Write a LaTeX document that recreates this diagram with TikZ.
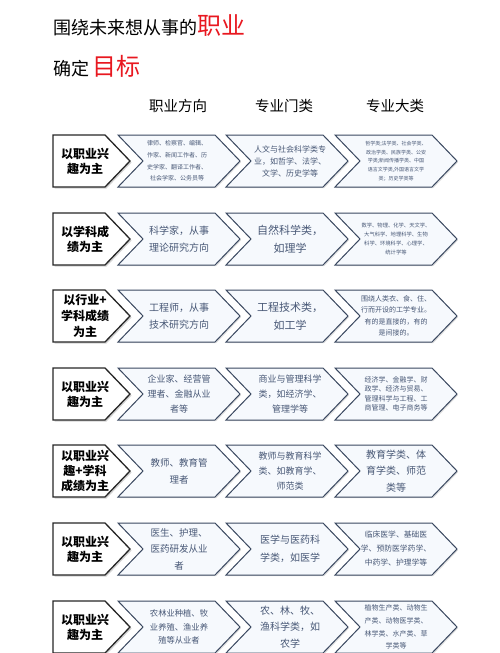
\documentclass[tikz,border=0pt]{standalone}
\usepackage{fontspec}
\setmainfont{Noto Sans CJK SC}
\usepackage{tikz}
\usetikzlibrary{shadows}
\definecolor{chevline}{RGB}{58,72,96}
\definecolor{chevtext}{RGB}{72,88,118}
\definecolor{titlered}{RGB}{232,24,32}
\newcommand{\fs}[2]{\fontsize{#1}{#2}\selectfont}

\begin{document}
\begin{tikzpicture}
[x=1pt,y=-1pt]
\tikzstyle{goal box}=[draw=black!85,line width=1.3pt,fill=white,line join=miter,drop shadow={shadow xshift=1.5pt,shadow yshift=-1.5pt,opacity=.35}]
\tikzstyle{major box}=[draw=chevline,line width=1pt,fill={rgb,255:red,246;green,249;blue,253},line join=miter,drop shadow={shadow xshift=1.2pt,shadow yshift=-1.2pt,opacity=.25}]
\tikzstyle{goal node}=[align=center,inner sep=0pt,font=\bfseries\fs{12}{15}]
\tikzstyle{major node}=[align=center,inner sep=0pt,text=chevtext]
\tikzstyle{head node}=[font=\fs{14.5}{16}]
\useasboundingbox (0,0) rectangle (500,653);

% title
\node(t1)[anchor=base west,inner sep=0pt,font=\fs{18}{20}] at (53,34) {围绕未来想从事的\textcolor{titlered}{\fs{24}{26}职业}};
\node(t2)[anchor=base west,inner sep=0pt,font=\fs{18}{20}] at (53,75) {确定\,\textcolor{titlered}{\fs{24}{26}目标}};

% column heads
\node(h1)[head node] at (178,106) {职业方向};
\node(h2)[head node] at (284,106) {专业门类};
\node(h3)[head node] at (395,106) {专业大类};

% arrow boxes
\foreach \y in {161,239,316,394,471,549,627}{
  \draw[goal box,shift={(0,\y)}] (53,-26) -- (105,-26) -- (130,0) -- (105,26) -- (53,26) -- cycle;
  \foreach \x in {179,287,396}
    \draw[major box,shift={(\x,\y)}] (-61,-26) -- (36,-26) -- (61,0) -- (36,26) -- (-61,26) -- (-36,0) -- cycle;
}

% row 1
\node(10)[goal node] at (85,161) {以职业兴\\趣为主};
\node(11)[major node,font=\fs{6}{11.7}] at (177,161) {律师、检察官、编辑、\\作家、新闻工作者、历\\史学家、翻译工作者、\\社会学家、公务员等};
\node(12)[major node,font=\fs{8}{12}] at (290,161) {人文与社会科学类专\\业，如哲学、法学、\\文学、历史学等};
\node(13)[major node,font=\fs{5}{8.7}] at (396,161) {哲学类;法学类、社会学类、\\政治学类、民族学类、公安\\学类;新闻传播学类、中国\\语言文学类,外国语言文学\\类；历史学类等};

% row 2
\node(20)[goal node] at (85,239) {以学科成\\绩为主};
\node(21)[major node,font=\fs{10}{17}] at (179,239) {科学家，从事\\理论研究方向};
\node(22)[major node,font=\fs{11}{18}] at (290,239) {自然科学类，\\如理学};
\node(23)[major node,font=\fs{5.3}{9}] at (396,239) {数学、物理、化学、天文学、\\大气科学、地理科学、生物\\科学、环境科学、心理学、\\统计学等};

% row 3
\node(30)[goal node,font=\bfseries\fs{12}{16}] at (85,316) {以行业+\\学科成绩\\为主};
\node(31)[major node,font=\fs{10}{17}] at (179,316) {工程师，从事\\技术研究方向};
\node(32)[major node,font=\fs{11}{18}] at (290,316) {工程技术类，\\如工学};
\node(33)[major node,font=\fs{7}{11.5}] at (396,316) {围绕人类衣、食、住、\\行而开设的工学专业。\\有的是直接的，有的\\是间接的。};

% row 4
\node(40)[goal node] at (85,394) {以职业兴\\趣为主};
\node(41)[major node,font=\fs{9}{15}] at (179,394) {企业家、经营管\\理者、金融从业\\者等};
\node(42)[major node,font=\fs{9}{15}] at (290,394) {商业与管理科学\\类，如经济学、\\管理学等};
\node(43)[major node,font=\fs{7}{9.5}] at (396,394) {经济学、金融学、财\\政学、经济与贸易、\\管理科学与工程、工\\商管理、电子商务等};

% row 5
\node(50)[goal node] at (85,471) {以职业兴\\趣+学科\\成绩为主};
\node(51)[major node,font=\fs{9.5}{17}] at (179,471) {教师、教育管\\理者};
\node(52)[major node,font=\fs{9}{15}] at (290,471) {教师与教育科学\\类、如教育学、\\师范类};
\node(53)[major node,font=\fs{10}{16.5}] at (396,471) {教育学类、体\\育学类、师范\\类等};

% row 6
\node(60)[goal node] at (85,549) {以职业兴\\趣为主};
\node(61)[major node,font=\fs{9.5}{16.5}] at (179,549) {医生、护理、\\医药研发从业\\者};
\node(62)[major node,font=\fs{10}{17.5}] at (290,549) {医学与医药科\\学类，如医学};
\node(63)[major node,font=\fs{7.8}{14}] at (396,549) {临床医学、基础医\\学、预防医学药学、\\中药学、护理学等};

% row 7
\node(70)[goal node] at (85,627) {以职业兴\\趣为主};
\node(71)[major node,font=\fs{8.3}{13.3}] at (179,627) {农林业种植、牧\\业养殖、渔业养\\殖等从业者};
\node(72)[major node,font=\fs{10}{16.7}] at (290,627) {农、林、牧、\\渔科学类，如\\农学};
\node(73)[major node,font=\fs{7}{12.7}] at (396,627) {植物生产类、动物生\\产类、动物医学类、\\林学类、水产类、草\\学类等};
\end{tikzpicture}
\end{document}
